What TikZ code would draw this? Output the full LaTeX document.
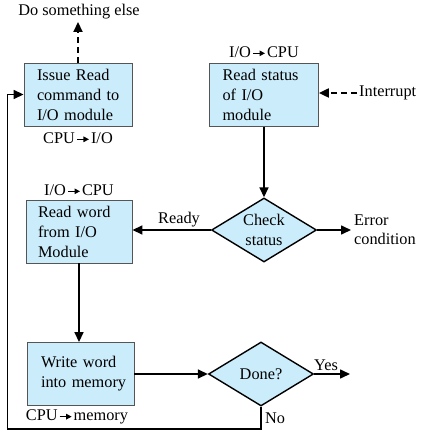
\documentclass[tikz,border=0pt]{standalone}
\usepackage{fontspec}
\setmainfont{Liberation Serif}
\usetikzlibrary{arrows.meta,shapes.geometric}
\definecolor{boxfill}{RGB}{203,236,250}
\definecolor{boxline}{RGB}{85,85,85}
\newcommand\tarr{\kern1.5pt\tikz[x=1pt,y=1pt,baseline=0pt]\draw[line width=1.1pt,-{Triangle[length=5.5pt,width=5.5pt]}] (0,4) -- (12,4);\kern1.5pt}
\begin{document}
\begin{tikzpicture}[x=1pt,y=-1pt,
  font=\fontsize{16.3}{20}\selectfont,
  procbox/.style={draw=boxline, fill=boxfill, line width=0.9pt, inner xsep=13pt,
    text width=82pt, align=left, minimum height=63pt, inner ysep=0pt},
  decision/.style={diamond, draw=black, fill=boxfill, line width=1.4pt, inner sep=0pt,
    aspect=1.64, align=center, minimum width=105pt, minimum height=64pt},
  flow/.style={line width=1.6pt, -{Triangle[length=10pt,width=9pt]}},
  dflow/.style={flow, line width=2.2pt, dash pattern=on 6pt off 4pt},
  lbl/.style={inner sep=1pt}]
\useasboundingbox (0,0) rectangle (424,435);

\node[procbox] (b1) at (78,94.5) {\mbox{Issue Read}\\\mbox{command to}\\\mbox{I/O module}};
\node[procbox, text width=83pt] (b2) at (264,95) {\mbox{Read status}\\\mbox{of I/O}\\\mbox{module}};
\node[procbox, inner xsep=12pt, text width=82pt] (b3) at (79,231.5) {\mbox{Read word}\\\mbox{from I/O}\\\mbox{Module}};
\node[procbox, inner xsep=14pt, text width=79pt] (b4) at (80.5,374) {\mbox{Write word}\\\mbox{into memory}};
\node[decision] (chk) at (264,230) {Check\\status};
\node[decision] (done) at (261,374) {Done?};

\node[lbl] (l1) at (78,138) {CPU\tarr I/O};
\node[lbl] (l2) at (264,52) {I/O\tarr CPU};
\node[lbl] (l3) at (79,190) {I/O\tarr CPU};
\node[lbl] (l4) at (77,417) {CPU\tarr memory};
\node[lbl] (dse) at (79,12) {Do something else};
\node[lbl, anchor=west] (intr) at (358,93) {Interrupt};
\node[lbl, anchor=west, align=left, font=\fontsize{16.3}{19}\selectfont] (err) at (353,229.5) {Error\\condition};
\node[lbl] (ready) at (179,220) {Ready};
\node[lbl] (yes) at (326,365) {Yes};
\node[lbl, anchor=west] (no) at (264,418) {No};

\coordinate (dseend) at (78,22);
\coordinate (intstart) at (357,93);
\coordinate (errend) at (351,230);
\coordinate (yesend) at (350,374);
\coordinate (corner) at (7.5,429);

\draw[dflow] (b1.north) -- (dseend);
\draw[dflow] (intstart) -- (intstart -| b2.east);
\draw[flow] (b2.south) -- (chk.north);
\draw[flow] (chk.west) -- (chk.west -| b3.east);
\draw[flow] (chk.east) -- (errend);
\draw[flow] (b3.south) -- (b3.south |- b4.north);
\draw[flow] (b4.east) -- (done.west);
\draw[flow] (done.east) -- (yesend);
\draw[flow] (done.south) |- (corner) |- (b1.west);
\end{tikzpicture}
\end{document}
